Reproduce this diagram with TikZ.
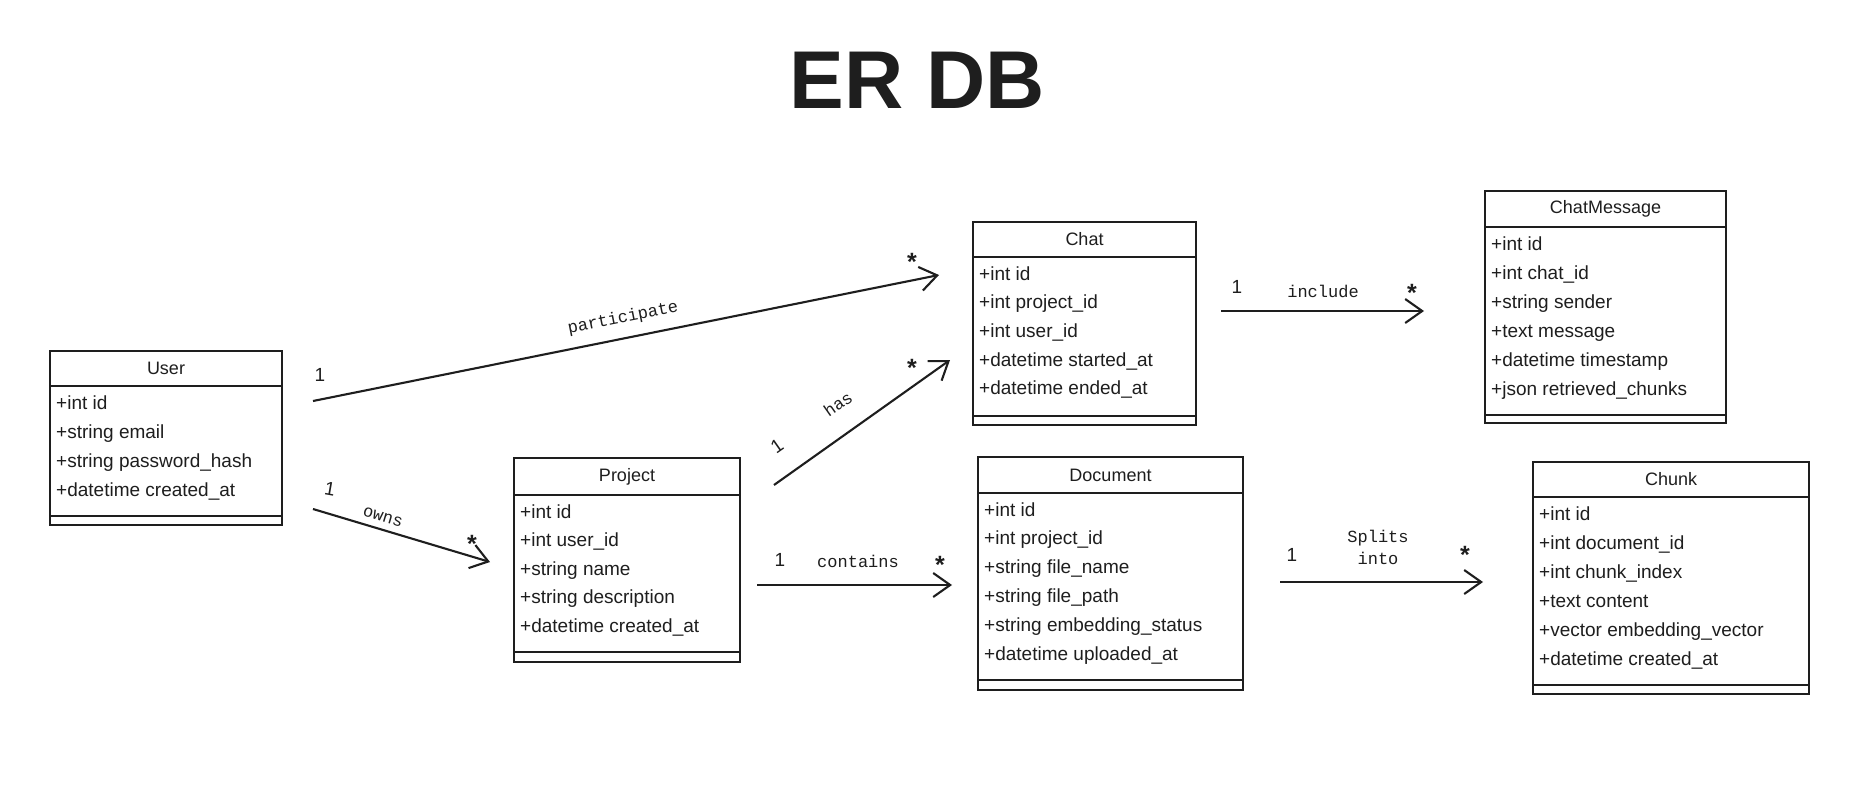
\documentclass[tikz,border=0pt]{standalone}
\usepackage{fontspec}
\setmainfont{Liberation Sans}
\newfontfamily\labelfont{Liberation Mono}
\usetikzlibrary{arrows.meta}
\definecolor{ink}{HTML}{1E1E1E}
\tikzset{
  box/.style={draw=ink, line width=1.8pt, inner sep=0pt, outer sep=0pt},
  boxline/.style={draw=ink, line width=1.6pt},
  ttl/.style={inner sep=0pt, text=ink, font=\fontsize{18}{21}\selectfont},
  attr/.style={anchor=west, inner sep=0pt, text=ink, text height=14pt, text depth=4pt, font=\fontsize{19}{22}\selectfont},
  conn/.style={draw=ink, line width=2.1pt, -{Straight Barb[length=17pt,width=24pt,line width=2.1pt]}},
  rel/.style={inner sep=0pt, text=ink, font=\labelfont\fontsize{17}{20}\selectfont},
  mult/.style={inner sep=0pt, text=ink, font=\fontsize{19}{22}\selectfont},
  star/.style={inner sep=0pt, text=ink, font=\fontsize{25}{26}\selectfont\bfseries},
}
\newcommand\entity[8]{%
  \node[box, minimum width={#4-#2}, minimum height={#5-#3}] (#1) at ({(#2+#4)/2},{(#3+#5)/2}) {};
  \draw[boxline] (#2,#6) -- (#4,#6);
  \draw[boxline] (#2,#7) -- (#4,#7);
  \node[ttl] (#1-title) at ({(#2+#4)/2},{(#3+#6)/2}) {#8};
}
\newcommand\attrs[5]{%
  \foreach \t [count=\i from 0] in {#5} {
    \node[attr] (#1-a\i) at (#2,{#3+\i*#4}) {\t};
  }
}
\begin{document}
\begin{tikzpicture}[x=1pt,y=-1pt]
\useasboundingbox (0,0) rectangle (1871,790);
\fill[white] (0,0) rectangle (1871,790);

\node[inner sep=0pt, text=ink, font=\fontsize{82}{90}\selectfont\bfseries] (title) at (917,80) {ER DB};

% entities
\entity{user}{50}{351}{282}{525}{386}{516}{User}
\attrs{user}{56}{404}{29}{+int id, +string email, +string password\_hash, +datetime created\_at}

\entity{project}{514}{458}{740}{662}{495}{652}{Project}
\attrs{project}{520}{513}{28.6}{+int id, +int user\_id, +string name, +string description, +datetime created\_at}

\entity{chat}{973}{222}{1196}{425}{257}{416}{Chat}
\attrs{chat}{979}{275}{28.7}{+int id, +int project\_id, +int user\_id, +datetime started\_at, +datetime ended\_at}

\entity{chatmsg}{1485}{191}{1726}{423}{227}{415}{ChatMessage}
\attrs{chatmsg}{1491}{245}{29}{+int id, +int chat\_id, +string sender, +text message, +datetime timestamp, +json retrieved\_chunks}

\entity{document}{978}{457}{1243}{690}{493}{680}{Document}
\attrs{document}{984}{511}{28.8}{+int id, +int project\_id, +string file\_name, +string file\_path, +string embedding\_status, +datetime uploaded\_at}

\entity{chunk}{1533}{462}{1809}{694}{497}{685}{Chunk}
\attrs{chunk}{1539}{515}{29}{+int id, +int document\_id, +int chunk\_index, +text content, +vector embedding\_vector, +datetime created\_at}

% connector end points
\coordinate (p1) at (313,401);  \coordinate (p2) at (939,275);
\coordinate (o1) at (313,509);  \coordinate (o2) at (490,562);
\coordinate (h1) at (774,485);  \coordinate (h2) at (950,360);
\coordinate (c1) at (757,585);  \coordinate (c2) at (952,585);
\coordinate (i1) at (1221,311); \coordinate (i2) at (1424,311);
\coordinate (s1) at (1280,582); \coordinate (s2) at (1483,582);

\draw[conn] (p1) -- (p2);
\draw[conn] (o1) -- (o2);
\draw[conn] (h1) -- (h2);
\draw[conn] (c1) -- (c2);
\draw[conn] (i1) -- (i2);
\draw[conn] (s1) -- (s2);

% relation labels
\node[rel, rotate=11.3] (lp) at (623,318) {participate};
\node[rel, rotate=-16.6] (lo) at (383,517) {owns};
\node[rel, rotate=35] (lh) at (838,404) {has};
\node[rel] (lc) at (858,561) {contains};
\node[rel] (li) at (1323,291) {include};
\node[rel, align=center, font=\labelfont\fontsize{17}{22}\selectfont] (ls) at (1378,547) {Splits\\into};

% multiplicities
\node[mult] (mp1) at (320,375) {1};
\node[star] (mp2) at (912,262) {*};
\node[mult, rotate=-10] (mo1) at (330,489) {1};
\node[star] (mo2) at (472,544) {*};
\node[mult, rotate=35] (mh1) at (777,446) {1};
\node[star] (mh2) at (912,368) {*};
\node[mult] (mc1) at (780,560) {1};
\node[star] (mc2) at (940,565) {*};
\node[mult] (mi1) at (1237,287) {1};
\node[star] (mi2) at (1412,293) {*};
\node[mult] (ms1) at (1292,555) {1};
\node[star] (ms2) at (1465,555) {*};
\end{tikzpicture}
\end{document}
